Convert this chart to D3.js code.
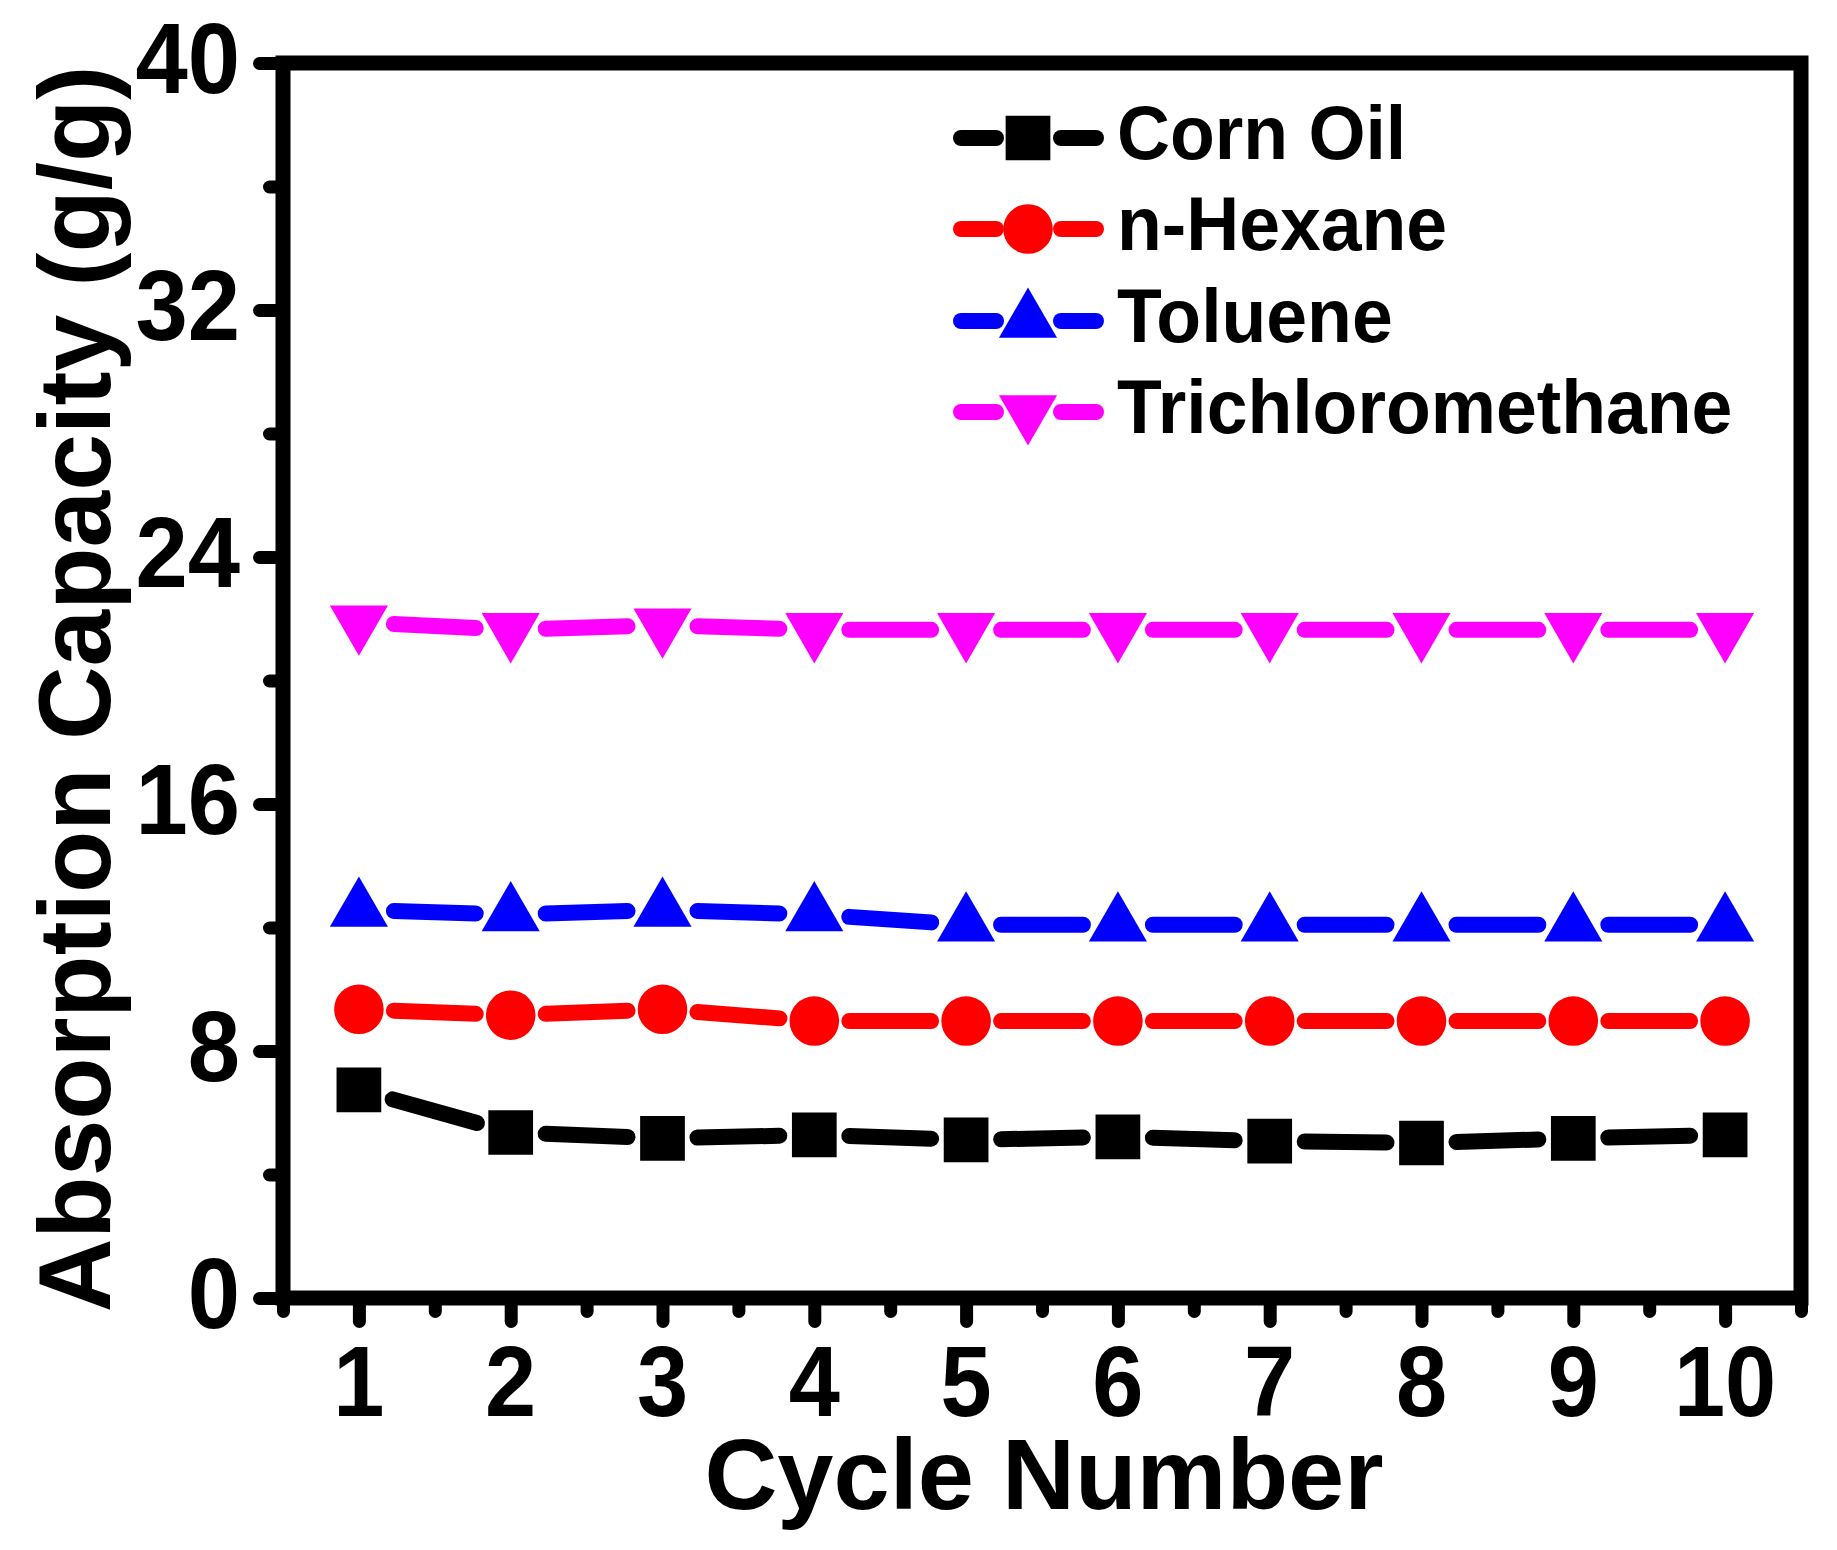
<!DOCTYPE html>
<html lang="en">
<head>
<meta charset="UTF-8">
<title>Absorption Capacity vs Cycle Number</title>
<script src="https://d3js.org/d3.v7.min.js"></script>
<style>
    body { margin: 0; background: #fff; }
    svg { display: block; }
    text { font-family: "Liberation Sans", Arial, sans-serif; font-weight: bold; fill: #000; }
</style>
</head>
<body>
<svg id="chart" width="1837" height="1550"></svg>
<script>
    // data
    const cycles = [1, 2, 3, 4, 5, 6, 7, 8, 9, 10];
    const cornOil = [6.74, 5.36, 5.17, 5.28, 5.12, 5.22, 5.08, 5.02, 5.17, 5.28];
    const nHexane = [9.35, 9.16, 9.35, 8.97, 8.97, 8.97, 8.97, 8.97, 8.97, 8.97];
    const toluene = [12.57, 12.42, 12.57, 12.42, 12.09, 12.09, 12.09, 12.09, 12.09, 12.09];
    const trichloromethane = [21.89, 21.64, 21.79, 21.64, 21.64, 21.64, 21.64, 21.64, 21.64, 21.64];

    const seriesNames = ["Corn Oil", "n-Hexane", "Toluene", "Trichloromethane"];
    const seriesColors = ["#000000", "#ff0000", "#0000ff", "#ff00ff"];
    const yMajorTicks = [0, 8, 16, 24, 32, 40];
    const yMinorTicks = [4, 12, 20, 28, 36];
    const xMinorTicks = [0.5, 1.5, 2.5, 3.5, 4.5, 5.5, 6.5, 7.5, 8.5, 9.5, 10.5];

    const series = [cornOil, nHexane, toluene, trichloromethane];

    const svg = d3.select("#chart");
    const plotLeft = 283, plotRight = 1801, plotTop = 63, plotBottom = 1298;

    const x = d3.scaleLinear().domain([0.5, 10.5]).range([plotLeft, plotRight]);
    const y = d3.scaleLinear().domain([0, 40]).range([plotBottom, plotTop]);

    // symbols: square, circle, up triangle, down triangle (rotated)
    const symbols = [
        { type: d3.symbolSquare, size: 2000, rot: 0 },
        { type: d3.symbolCircle, size: 1930, rot: 0 },
        { type: d3.symbolTriangle, size: 1460, rot: 0 },
        { type: d3.symbolTriangle, size: 1460, rot: 180 }
    ];

    // frame
    svg.append("rect")
        .attr("x", plotLeft).attr("y", plotTop)
        .attr("width", plotRight - plotLeft).attr("height", plotBottom - plotTop)
        .attr("fill", "none")
        .attr("stroke", "#000")
        .attr("stroke-width", 15);

    // ticks through d3 axes, labels drawn separately
    function styleTicks(g) {
        g.select(".domain").remove();
        g.selectAll(".tick line")
            .attr("stroke", "#000")
            .attr("stroke-width", 13)
            .attr("stroke-linecap", "round");
        g.selectAll(".tick text").remove();
    }

    svg.append("g").attr("transform", `translate(${plotLeft},0)`)
        .call(d3.axisLeft(y).tickValues(yMajorTicks).tickSize(23.5).tickFormat(""))
        .call(styleTicks);
    svg.append("g").attr("transform", `translate(${plotLeft},0)`)
        .call(d3.axisLeft(y).tickValues(yMinorTicks).tickSize(13.5).tickFormat(""))
        .call(styleTicks);
    svg.append("g").attr("transform", `translate(0,${plotBottom})`)
        .call(d3.axisBottom(x).tickValues(cycles).tickSize(23.5).tickFormat(""))
        .call(styleTicks);
    svg.append("g").attr("transform", `translate(0,${plotBottom})`)
        .call(d3.axisBottom(x).tickValues(xMinorTicks).tickSize(13.5).tickFormat(""))
        .call(styleTicks);

    // tick labels
    svg.append("g").selectAll("text")
        .data(yMajorTicks)
        .join("text")
        .attr("transform", d => `translate(240,${y(d) + 30}) scale(0.94,1)`)
        .attr("text-anchor", "end")
        .attr("font-size", 100)
        .text(d => d);

    svg.append("g").selectAll("text")
        .data(cycles)
        .join("text")
        .attr("transform", d => `translate(${x(d)},1416) scale(0.92,1)`)
        .attr("text-anchor", "middle")
        .attr("font-size", 100)
        .text(d => d);

    // axis titles
    svg.append("text")
        .attr("x", (plotLeft + plotRight) / 2 + 2)
        .attr("y", 1509)
        .attr("text-anchor", "middle")
        .attr("font-size", 101)
        .text("Cycle Number");

    svg.append("text")
        .attr("transform", "translate(110,689) rotate(-90)")
        .attr("text-anchor", "middle")
        .attr("font-size", 102)
        .text("Absorption Capacity (g/g)");

    // line segments with gaps around the markers
    const gap = 35;
    function segments(values) {
        const pts = values.map((v, i) => [x(cycles[i]), y(v)]);
        const segs = [];
        for (let i = 0; i < pts.length - 1; i++) {
            const [x1, y1] = pts[i], [x2, y2] = pts[i + 1];
            const len = Math.hypot(x2 - x1, y2 - y1);
            const ux = (x2 - x1) / len, uy = (y2 - y1) / len;
            segs.push([x1 + ux * gap, y1 + uy * gap, x2 - ux * gap, y2 - uy * gap]);
        }
        return segs;
    }

    series.forEach((values, s) => {
        const g = svg.append("g");
        g.selectAll("line")
            .data(segments(values))
            .join("line")
            .attr("x1", d => d[0]).attr("y1", d => d[1])
            .attr("x2", d => d[2]).attr("y2", d => d[3])
            .attr("stroke", seriesColors[s])
            .attr("stroke-width", 16)
            .attr("stroke-linecap", "round");

        const sym = d3.symbol().type(symbols[s].type).size(symbols[s].size);
        g.selectAll("path")
            .data(values)
            .join("path")
            .attr("d", sym)
            .attr("transform", (d, i) => `translate(${x(cycles[i])},${y(d)}) rotate(${symbols[s].rot})`)
            .attr("fill", seriesColors[s]);
    });

    // legend
    const legendRows = [138, 229, 321, 412];
    const legend = svg.append("g");
    seriesNames.forEach((name, s) => {
        const ly = legendRows[s];
        const row = legend.append("g");
        row.selectAll("line")
            .data([[961, 996], [1061, 1096]])
            .join("line")
            .attr("x1", d => d[0]).attr("x2", d => d[1])
            .attr("y1", ly).attr("y2", ly)
            .attr("stroke", seriesColors[s])
            .attr("stroke-width", 16)
            .attr("stroke-linecap", "round");
        row.append("path")
            .attr("d", d3.symbol().type(symbols[s].type).size(symbols[s].size))
            .attr("transform", `translate(1028,${ly}) rotate(${symbols[s].rot})`)
            .attr("fill", seriesColors[s]);
        row.append("text")
            .attr("transform", `translate(1117,${ly + 21}) scale(0.965,1)`)
            .attr("font-size", 76)
            .text(name);
    });
</script>
</body>
</html>
